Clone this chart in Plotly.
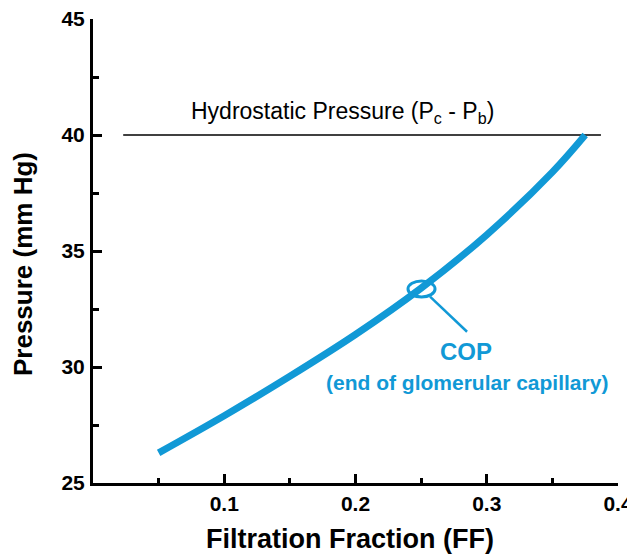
import plotly.graph_objects as go

# filtration fraction vs. colloid osmotic pressure along the capillary
ff = [0.05, 0.10, 0.15, 0.20, 0.25, 0.30, 0.35, 0.375]
cop = [26.3, 27.9, 29.6, 31.4, 33.4, 35.7, 38.4, 40.0]

# hydrostatic pressure line (Pc - Pb)
hyd_x = [0.023, 0.387]
hyd_y = [40, 40]

x_ticks = [0.1, 0.2, 0.3, 0.4]
y_ticks = [25, 30, 35, 40, 45]

blue = "#1199d6"
font = "Liberation Sans, Arial, sans-serif"

fig = go.Figure()
fig.add_trace(go.Scatter(x=hyd_x, y=hyd_y, mode="lines",
                         line=dict(color="black", width=1.5)))
fig.add_trace(go.Scatter(x=ff, y=cop, mode="lines",
                         line=dict(color=blue, width=7, shape="spline")))

# ellipse around the end-of-capillary point + leader line
fig.add_shape(type="circle", xref="x", yref="y",
              x0=0.240, x1=0.2606, y0=33.02, y1=33.71,
              line=dict(color=blue, width=3))
fig.add_shape(type="line", xref="x", yref="y",
              x0=0.2568, y0=33.03, x1=0.285, y1=31.52,
              line=dict(color=blue, width=2.5))

fig.add_annotation(x=0.19, y=40.95, text="Hydrostatic Pressure (P<sub>c</sub> - P<sub>b</sub>)",
                   showarrow=False, font=dict(family=font, size=23, color="black"))
fig.add_annotation(x=0.284, y=30.67, text="<b>COP</b>", showarrow=False,
                   font=dict(family=font, size=24, color=blue))
fig.add_annotation(x=0.285, y=29.35, text="<b>(end of glomerular capillary)</b>", showarrow=False,
                   font=dict(family=font, size=21, color=blue))

# axis titles
fig.add_annotation(xref="paper", yref="paper", x=0.4895, y=-0.1207,
                   xanchor="center", yanchor="middle",
                   text="<b>Filtration Fraction (FF)</b>", showarrow=False,
                   font=dict(family=font, size=27, color="black"))
fig.add_annotation(xref="paper", yref="paper", x=-0.1333, y=0.472, textangle=-90,
                   xanchor="center", yanchor="middle",
                   text="<b>Pressure (mm Hg)</b>", showarrow=False,
                   font=dict(family=font, size=26, color="black"))

fig.update_xaxes(range=[0, 0.4], tickvals=x_ticks, ticktext=["%.1f" % v for v in x_ticks],
                 ticks="inside", ticklen=9, tickwidth=3, tickcolor="black", ticklabeloverflow="allow",
                 minor=dict(ticks="inside", ticklen=5, tickwidth=3, tickcolor="black", dtick=0.05, tick0=0),
                 showline=True, linewidth=3, linecolor="black", showgrid=False, zeroline=False,
                 automargin=False, tickfont=dict(family=font, size=21, color="black", weight="bold"))
fig.update_yaxes(range=[25, 45], tickvals=y_ticks, ticktext=["%d" % v for v in y_ticks],
                 ticks="inside", ticklen=9, tickwidth=3, tickcolor="black", ticklabelstandoff=1,
                 ticklabeloverflow="allow",
                 minor=dict(ticks="inside", ticklen=6, tickwidth=3, tickcolor="black", dtick=2.5, tick0=25),
                 showline=True, linewidth=3, linecolor="black", showgrid=False, zeroline=False,
                 automargin=False, tickfont=dict(family=font, size=21, color="black", weight="bold"))

# page body adds an 8px offset, so the figure is shrunk to keep the plot area in place
fig.update_layout(width=627, height=547, showlegend=False,
                  margin=dict(l=85, r=17, t=11, b=72),
                  plot_bgcolor="white", paper_bgcolor="white")

fig.write_html("out.html")
